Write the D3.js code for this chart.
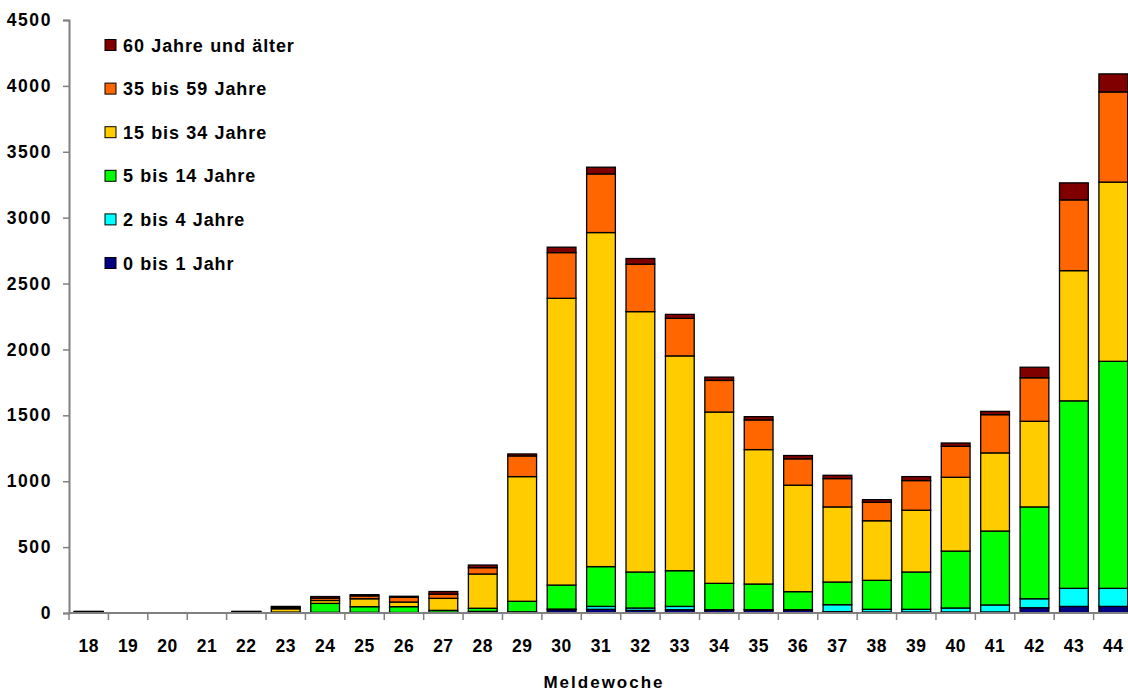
<!DOCTYPE html>
<html><head><meta charset="utf-8">
<script src="https://cdn.jsdelivr.net/npm/d3@7"></script>
<style>body{margin:0;background:#fff}svg{display:block}text{font-family:"Liberation Sans",Arial,sans-serif;font-weight:bold;fill:#000}</style>
</head><body><svg id="c" width="1128" height="691"></svg>
<script>
const weeks = ["18","19","20","21","22","23","24","25","26","27","28","29","30","31","32","33","34","35","36","37","38","39","40","41","42","43","44"];
const age0_1   = [2,0,0,0,2,1,2,2,2,3,8,5,25,28,20,25,22,22,22,10,8,8,8,8,40,50,50];
const age2_4   = [1,0,0,0,1,1,3,3,2,2,4,4,5,22,18,25,3,3,3,53,20,20,30,53,68,137,137];
const age5_14  = [3,0,0,0,3,5,68,43,44,15,24,80,182,302,273,271,200,195,137,172,220,283,432,561,697,1423,1723];
const age15_34 = [3,0,0,0,3,25,22,60,35,91,260,946,2176,2535,1976,1630,1300,1020,808,570,452,469,560,593,650,988,1360];
const age35_59 = [2,0,0,0,2,10,18,22,36,32,48,157,347,445,360,285,240,225,200,215,140,225,235,290,330,537,684];
const age60    = [1,0,0,0,1,8,12,9,8,20,20,15,41,51,43,30,25,25,25,25,20,30,25,25,80,129,137];
const seriesNames = ["0 bis 1 Jahr","2 bis 4 Jahre","5 bis 14 Jahre","15 bis 34 Jahre","35 bis 59 Jahre","60 Jahre und älter"];
const seriesColors = ["#000080","#00FFFF","#00FF00","#FFCC00","#FF6600","#800000"];
const yTicks = [0,500,1000,1500,2000,2500,3000,3500,4000,4500];
const xTitle = "Meldewoche";

const seriesData = [age0_1,age2_4,age5_14,age15_34,age35_59,age60];
const keys = seriesNames;
const table = weeks.map((w,i)=>{const o={week:w}; keys.forEach((k,j)=>o[k]=seriesData[j][i]); return o;});
const stacked = d3.stack().keys(keys)(table);

const svg = d3.select("#c");
const x0 = 69, x1 = 1133, yTop = 20, yBot = 613;
const x = d3.scaleBand().domain(weeks).range([x0,x1]).paddingInner(0.27).paddingOuter(0.135);
const y = d3.scaleLinear().domain([0,4500]).range([yBot,yTop]);
const axisColor = "#808080";
const fontFam = "Liberation Sans, Arial, sans-serif";

// bars
svg.append("g").selectAll("g").data(stacked).join("g")
  .attr("fill",(d,i)=>seriesColors[i])
  .selectAll("rect").data(d=>d.filter(v=>v[1]-v[0]>0)).join("rect")
  .attr("x",d=>x(d.data.week))
  .attr("width",x.bandwidth())
  .attr("y",d=>y(d[1]))
  .attr("height",d=>y(d[0])-y(d[1]))
  .attr("stroke","#000").attr("stroke-width",1.3);

// y axis
const yAxis = svg.append("g").attr("transform",`translate(${x0},0)`)
  .call(d3.axisLeft(y).tickValues(yTicks).tickSize(6).tickPadding(11).tickFormat(d3.format("d")));
yAxis.select(".domain").attr("stroke",axisColor).attr("stroke-width",2);
yAxis.selectAll(".tick line").attr("stroke",axisColor).attr("stroke-width",1.5);
yAxis.selectAll(".tick text").style("font-size","17.5px").style("font-family",fontFam).style("font-weight","bold")
  .style("letter-spacing","1.6px").attr("fill","#000");

// x axis
const step = x.step();
const xAxis = svg.append("g").attr("transform",`translate(0,${yBot})`)
  .call(d3.axisBottom(x).tickSize(0).tickPadding(27));
xAxis.select(".domain").attr("d",`M${x0},0H${x1}`).attr("stroke",axisColor).attr("stroke-width",2);
xAxis.selectAll(".tick text").style("font-size","17.5px").style("font-family",fontFam).style("font-weight","bold")
  .style("letter-spacing","0.5px").attr("fill","#000");
const bounds = d3.range(weeks.length+1).map(i=>x0 + i*step);
xAxis.append("g").selectAll("line").data(bounds).join("line")
  .attr("x1",d=>d).attr("x2",d=>d).attr("y1",0).attr("y2",7)
  .attr("stroke",axisColor).attr("stroke-width",1.5);

svg.append("text").attr("x",604).attr("y",688).attr("text-anchor","middle")
  .style("font-size","17px").style("letter-spacing","2px").text(xTitle);

// legend
const legendOrder = d3.range(seriesNames.length).reverse();
const lg = svg.append("g");
legendOrder.forEach((si,row)=>{
  const cy = 45 + row*43.6;
  lg.append("rect").attr("x",105).attr("y",cy-5.5).attr("width",11).attr("height",11)
    .attr("fill",seriesColors[si]).attr("stroke","#000").attr("stroke-width",1);
  lg.append("text").attr("x",123).attr("y",cy+6.5).style("font-size","18px")
    .style("letter-spacing","0.9px").style("word-spacing","0.5px").text(seriesNames[si]);
});
</script></body></html>
